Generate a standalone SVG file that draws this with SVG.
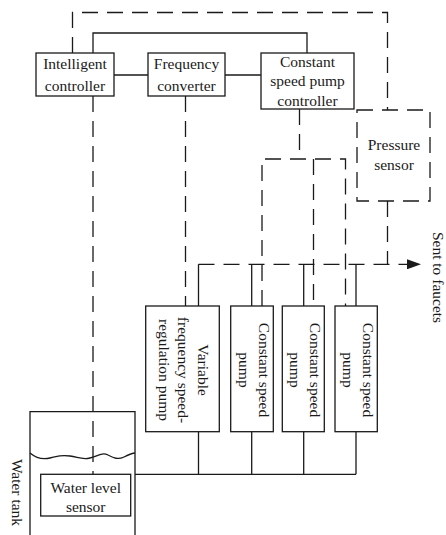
<svg xmlns="http://www.w3.org/2000/svg" width="446" height="535" viewBox="0 0 446 535">
<style>
  .box{fill:#fff;stroke:#1a1a1a;stroke-width:1.3}
  .dbox{fill:none;stroke:#1a1a1a;stroke-width:1.3;stroke-dasharray:16 9}
  .s{fill:none;stroke:#1a1a1a;stroke-width:1.3}
  .d{fill:none;stroke:#1a1a1a;stroke-width:1.3;stroke-dasharray:16 9}
  text{font-family:"Liberation Serif","Times New Roman",serif;font-size:15.5px;fill:#1a1a1a;text-anchor:middle}
</style>
<defs>
  <marker id="arr" viewBox="0 0 14 10" refX="14" refY="5" markerUnits="userSpaceOnUse" markerWidth="14" markerHeight="10" orient="auto">
    <path d="M0,0 L14,5 L0,10 z" fill="#1a1a1a"/>
  </marker>
</defs>
<rect width="446" height="535" fill="#fff"/>
<g id="connectors">
  <path class="d" d="M72.5,53 V12.5 H387.5 V110"/>
  <path class="s" d="M93,53 V33 H307 V53"/>
  <path class="s" d="M114,75 H148"/>
  <path class="s" d="M225,75 H261"/>
  <path class="d" d="M93,96 V474.3"/>
  <path class="d" d="M185.5,96 V306"/>
  <path class="d" d="M299.5,109 V159"/>
  <path class="d" d="M262,306 V159 H345.5 V306"/>
  <path class="d" d="M313.5,159 V306"/>
  <path class="d" d="M387.5,201 V264.3"/>
  <path class="d" d="M198.5,264.3 H421" marker-end="url(#arr)"/>
  <path class="s" d="M198.5,264.3 V306 M251.7,264.3 V306 M303.7,264.3 V306 M356,264.3 V306"/>
  <path class="s" d="M198.5,431.7 V474.3 M251.7,431.7 V474.3 M303.7,431.7 V474.3 M356,431.7 V474.3 M135,474.3 H356"/>
</g>
<g id="intelligent-controller">
  <rect class="box" x="36" y="53" width="78" height="43"/>
  <text x="75" y="68.5">Intelligent</text>
  <text x="75" y="90.5">controller</text>
</g>
<g id="frequency-converter">
  <rect class="box" x="148" y="53" width="77" height="43"/>
  <text x="186.5" y="69">Frequency</text>
  <text x="186.5" y="90.5">converter</text>
</g>
<g id="constant-speed-pump-controller">
  <rect class="box" x="261" y="53" width="93" height="56"/>
  <text x="307.5" y="66.5">Constant</text>
  <text x="307.5" y="86">speed pump</text>
  <text x="307.5" y="105.5">controller</text>
</g>
<g id="pressure-sensor">
  <rect class="dbox" x="357" y="110" width="73" height="91"/>
  <text x="394" y="150">Pressure</text>
  <text x="394" y="169.5">sensor</text>
</g>
<g id="vfd-pump">
  <rect class="box" x="145.7" y="306" width="73.6" height="125.7"/>
  <g transform="translate(183.5,370) rotate(90)">
    <text x="0" y="-19.5" dy="0.35em">Variable</text>
    <text x="0" y="0" dy="0.35em">frequency speed-</text>
    <text x="0" y="19.5" dy="0.35em">regulation pump</text>
  </g>
</g>
<g id="constant-speed-pump-1">
  <rect class="box" x="230.7" y="306" width="42.6" height="125.7"/>
  <g transform="translate(254.3,370) rotate(90)">
    <text x="0" y="-10" dy="0.35em">Constant speed</text>
    <text x="0" y="10" dy="0.35em">pump</text>
  </g>
</g>
<g id="constant-speed-pump-2">
  <rect class="box" x="282.3" y="306" width="42" height="125.7"/>
  <g transform="translate(305.6,370) rotate(90)">
    <text x="0" y="-10" dy="0.35em">Constant speed</text>
    <text x="0" y="10" dy="0.35em">pump</text>
  </g>
</g>
<g id="constant-speed-pump-3">
  <rect class="box" x="335" y="306" width="42.3" height="125.7"/>
  <g transform="translate(358.5,370) rotate(90)">
    <text x="0" y="-10" dy="0.35em">Constant speed</text>
    <text x="0" y="10" dy="0.35em">pump</text>
  </g>
</g>
<g id="water-tank">
  <path class="s" d="M30,535 V411.7 H135 V535"/>
  <path class="s" d="M30,453 C36,458 42,460 50,458 C58,456 62,455 70,456 C78,457 82,460 90,458 C98,456 102,452 108,455 C114,458 118,460 124,457 C128,455 132,453 135,453"/>
  <text transform="translate(17,492.5) rotate(90)" dy="0.35em">Water tank</text>
</g>
<g id="water-level-sensor">
  <rect class="box" x="40.7" y="474.3" width="90" height="41.7"/>
  <text x="85.7" y="493">Water level</text>
  <text x="85.7" y="512">sensor</text>
</g>
<g id="faucets-label">
  <text transform="translate(438.5,277.5) rotate(90)" dy="0.35em">Sent to faucets</text>
</g>
</svg>
